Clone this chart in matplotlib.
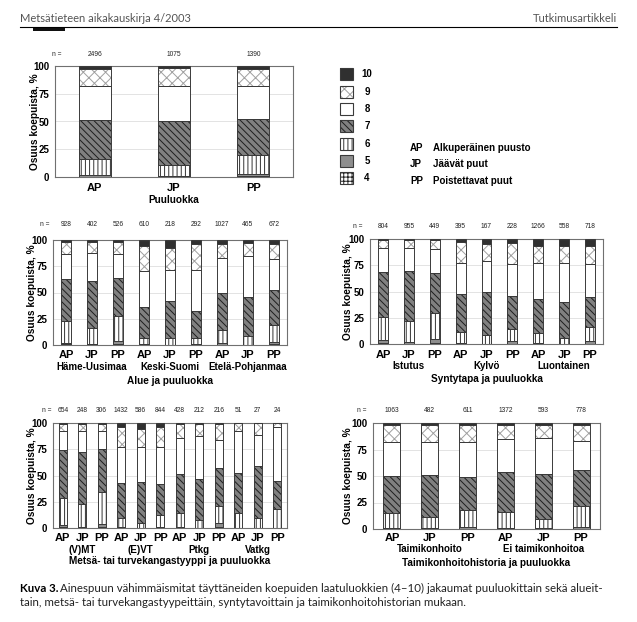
import matplotlib

matplotlib.use("Agg")
import matplotlib.pyplot as plt
import numpy as np
from matplotlib.patches import Rectangle
from matplotlib.transforms import blended_transform_factory

plt.rcParams["font.family"] = ["Liberation Sans", "DejaVu Sans"]
plt.rcParams["hatch.linewidth"] = 0.7

W, H = 637, 622

# quality classes, bottom to top
CLASSES = [4, 5, 6, 7, 8, 9, 10]
TREE_CLASSES = ["AP", "JP", "PP"]

# shares (%) of classes 4..10 per bar
puuluokka_n = [2496, 1075, 1390]
puuluokka_shares = [
    [0.3, 1.7, 13.8, 35.7, 30.9, 15.1, 2.5],
    [0.0, 1.0, 10.2, 39.4, 31.4, 15.8, 2.2],
    [0.5, 2.5, 16.7, 32.7, 29.4, 15.7, 2.5],
]

alue_groups = ["Häme-Uusimaa", "Keski-Suomi", "Etelä-Pohjanmaa"]
alue_n = [928, 402, 526, 610, 218, 292, 1027, 465, 672]
alue_shares = [
    [0.5, 1.0, 21.2, 39.9, 24.0, 11.8, 1.6],
    [0.0, 1.0, 15.0, 45.0, 26.2, 11.3, 1.5],
    [1.0, 2.5, 24.5, 35.6, 22.7, 11.7, 2.0],
    [0.0, 0.5, 6.2, 29.3, 34.6, 24.0, 5.4],
    [0.0, 0.0, 6.7, 34.8, 29.7, 21.5, 7.3],
    [0.0, 0.5, 6.2, 25.3, 39.9, 24.3, 3.8],
    [0.3, 1.3, 12.8, 35.1, 32.9, 14.1, 3.5],
    [0.0, 0.3, 8.3, 37.4, 38.7, 12.1, 3.2],
    [0.5, 2.5, 16.2, 32.8, 29.5, 15.0, 3.5],
]

synty_groups = ["Istutus", "Kylvö", "Luontainen"]
synty_n = [804, 955, 449, 395, 167, 228, 1266, 558, 718]
synty_shares = [
    [0.5, 3.0, 22.5, 42.3, 22.7, 8.0, 1.0],
    [0.0, 1.6, 20.0, 47.9, 22.2, 7.5, 0.8],
    [0.8, 3.6, 25.6, 37.3, 23.5, 8.2, 1.0],
    [0.0, 0.5, 11.2, 35.6, 30.2, 19.3, 3.2],
    [0.0, 0.0, 8.3, 40.9, 30.2, 16.2, 4.4],
    [0.3, 2.2, 12.1, 31.1, 30.8, 20.0, 3.5],
    [0.0, 1.3, 9.5, 31.7, 34.3, 16.8, 6.4],
    [0.0, 0.0, 5.4, 34.6, 36.8, 16.2, 7.0],
    [0.3, 2.2, 13.7, 28.2, 32.1, 16.8, 6.7],
]

tyyppi_groups = ["(V)MT", "(E)VT", "Ptkg", "Vatkg"]
tyyppi_n = [654, 248, 306, 1432, 586, 844, 428, 212, 216, 51, 27, 24]
tyyppi_shares = [
    [0.8, 2.4, 25.6, 45.6, 17.6, 7.0, 1.0],
    [0.0, 1.3, 21.1, 50.4, 19.8, 6.7, 0.7],
    [0.8, 3.0, 30.7, 40.3, 17.2, 7.0, 1.0],
    [0.0, 0.5, 9.1, 32.9, 34.5, 19.2, 3.8],
    [0.0, 0.0, 4.8, 38.7, 33.5, 17.2, 5.8],
    [0.0, 0.5, 12.3, 29.4, 34.8, 18.8, 4.2],
    [0.0, 1.3, 13.4, 37.1, 33.8, 13.4, 1.0],
    [0.0, 0.0, 8.0, 38.3, 41.2, 12.0, 0.5],
    [0.8, 3.7, 16.3, 36.2, 27.0, 15.0, 1.0],
    [0.0, 0.0, 14.7, 37.3, 40.0, 8.0, 0.0],
    [0.0, 0.0, 9.6, 49.4, 29.8, 11.2, 0.0],
    [0.0, 0.0, 18.5, 26.2, 51.1, 4.2, 0.0],
]

hoito_groups = ["Taimikonhoito", "Ei taimikonhoitoa"]
hoito_n = [1063, 482, 611, 1372, 593, 778]
hoito_shares = [
    [0.0, 1.3, 14.0, 34.7, 32.0, 16.0, 2.0],
    [0.0, 0.5, 10.7, 39.8, 31.0, 15.8, 2.2],
    [0.3, 1.3, 16.0, 31.6, 32.8, 15.8, 2.2],
    [0.0, 1.3, 14.7, 38.0, 30.7, 13.3, 2.0],
    [0.0, 0.5, 9.1, 42.4, 33.6, 12.4, 2.0],
    [0.3, 1.9, 19.5, 33.6, 27.7, 15.0, 2.0],
]

legend_abbr = ["AP", "JP", "PP"]
legend_desc = ["Alkuperäinen puusto", "Jäävät puut", "Poistettavat puut"]

# face, hatch, hatch colour
STYLE = {
    4: ("white", "++++", "#222222"),
    5: ("#8e8e8e", "", "#8e8e8e"),
    6: ("white", "||||", "#333333"),
    7: ("#808080", "\\\\\\\\\\", "#1e1e1e"),
    8: ("white", "", "white"),
    9: ("white", "xxx", "#a0a0a0"),
    10: ("#303030", "", "#303030"),
}
EDGE = "#3a3a3a"

fig = plt.figure(figsize=(W / 100, H / 100), dpi=100)
bg = fig.add_axes([0, 0, 1, 1])
bg.set_xlim(0, W)
bg.set_ylim(H, 0)
bg.axis("off")


def px_axes(l, t, r, b):
    return fig.add_axes([l / W, 1 - b / H, (r - l) / W, (b - t) / H])


def panel(box, shares, n, width, n_y, n_lab_x, tick_y, groups=None, group_y=None,
          title=None, title_y=None, ylab_x=None):
    ax = px_axes(*box)
    x = np.arange(len(shares))
    arr = np.array(shares)
    bottom = np.zeros(len(shares))
    for k, cls in enumerate(CLASSES):
        face, hatch, hc = STYLE[cls]
        vals = arr[:, k]
        ax.bar(x, vals, width, bottom=bottom, color=face, edgecolor=hc, hatch=hatch,
               linewidth=0, zorder=2)
        ax.bar(x, vals, width, bottom=bottom, fill=False, edgecolor=EDGE, linewidth=0.7, zorder=3)
        bottom += vals
    ax.set_xlim(-0.5, len(shares) - 0.5)
    ax.set_ylim(0, 100)
    ax.set_yticks([0, 25, 50, 75, 100])
    ax.set_xticks([])
    ax.yaxis.grid(True, color="#dedede", linewidth=0.6)
    ax.set_axisbelow(True)
    for s in ax.spines.values():
        s.set_color("#707070")
        s.set_linewidth(0.8)
    ax.tick_params(axis="y", length=0, pad=4, labelsize=7)
    for lab in ax.get_yticklabels():
        lab.set_fontweight("bold")

    tr = blended_transform_factory(ax.transData, bg.transData)
    for i, v in enumerate(n):
        ax.text(i, n_y, str(v), transform=tr, ha="center", va="center", fontsize=4.8, color="#222")
    bg.text(n_lab_x, n_y, "n =", ha="center", va="center", fontsize=4.8, color="#222")
    for i in range(len(shares)):
        ax.text(i, tick_y, TREE_CLASSES[i % 3], transform=tr, ha="center", va="center",
                fontsize=8, fontweight="bold")
    if groups:
        for g, name in enumerate(groups):
            ax.text(3 * g + 1, group_y, name, transform=tr, ha="center", va="center",
                    fontsize=7, fontweight="bold")
    if title:
        cx = (box[0] + box[2]) / 2
        bg.text(cx, title_y, title, ha="center", va="center", fontsize=7.2, fontweight="bold")
    yl = ylab_x if ylab_x is not None else box[0] - 21
    bg.text(yl, (box[1] + box[3]) / 2, "Osuus koepuista, %", rotation=90, ha="center",
            va="center", fontsize=7.3, fontweight="bold")
    return ax


panel((55, 66, 293, 177), puuluokka_shares, puuluokka_n, 0.4, 55, 57, 188,
      title="Puuluokka", title_y=200, ylab_x=35)
panel((53, 240, 287, 345), alue_shares, alue_n, 0.37, 224, 45, 355,
      groups=alue_groups, group_y=367, title="Alue ja puuluokka", title_y=381, ylab_x=32)
panel((370, 239, 603, 344), synty_shares, synty_n, 0.38, 226, 358, 355,
      groups=synty_groups, group_y=366, title="Syntytapa ja puuluokka", title_y=379, ylab_x=348)
panel((53, 423, 287, 528), tyyppi_shares, tyyppi_n, 0.4, 411, 47, 538,
      groups=tyyppi_groups, group_y=550, title="Metsä- tai turvekangastyyppi ja puuluokka",
      title_y=561, ylab_x=32)
panel((373, 423, 600, 529), hoito_shares, hoito_n, 0.45, 411, 362, 538,
      groups=hoito_groups, group_y=549, title="Taimikonhoitohistoria ja puuluokka",
      title_y=563, ylab_x=348)

# legend of quality classes
leg_y = [178, 161, 144, 126, 109, 92, 74]
for cls, yy in zip(CLASSES, leg_y):
    face, hatch, hc = STYLE[cls]
    bg.add_patch(Rectangle((340, yy - 6), 13, 12, facecolor=face, edgecolor=hc, hatch=hatch, linewidth=0))
    bg.add_patch(Rectangle((340, yy - 6), 13, 12, fill=False, edgecolor=EDGE, linewidth=0.8))
    bg.text(367, yy, str(cls), ha="center", va="center", fontsize=7, fontweight="bold")
for abbr, desc, yy in zip(legend_abbr, legend_desc, [148, 164, 181]):
    bg.text(410, yy, abbr, ha="left", va="center", fontsize=7, fontweight="bold")
    bg.text(433, yy, desc, ha="left", va="center", fontsize=7, fontweight="bold")

# page header
hdr_font = ["Lato", "DejaVu Sans"]
bg.text(20, 18, "Metsätieteen aikakauskirja 4/2003", ha="left", va="center", fontsize=8,
        color="#555555", family=hdr_font)
bg.text(617, 18, "Tutkimusartikkeli", ha="right", va="center", fontsize=8,
        color="#555555", family=hdr_font)
bg.plot([20, 617], [27, 27], color="black", linewidth=0.8)
bg.add_patch(Rectangle((33, 28), 32, 3, color="#111111", linewidth=0))

# caption
cap1 = bg.text(20, 588, "Kuva 3.", ha="left", va="center", fontsize=8.3, fontweight="bold",
               family=hdr_font)
fig.canvas.draw()
x_end = cap1.get_window_extent().x1
bg.text(x_end + 2, 588, "Ainespuun vähimmäismitat täyttäneiden koepuiden laatuluokkien (4–10) "
        "jakaumat puuluokittain sekä alueit-", ha="left", va="center", fontsize=8.3,
        family=hdr_font, color="#222222")
bg.text(20, 603, "tain, metsä- tai turvekangastyypeittäin, syntytavoittain ja "
        "taimikonhoitohistorian mukaan.", ha="left", va="center", fontsize=8.3,
        family=hdr_font, color="#222222")

fig.savefig("out.png", dpi=100)
